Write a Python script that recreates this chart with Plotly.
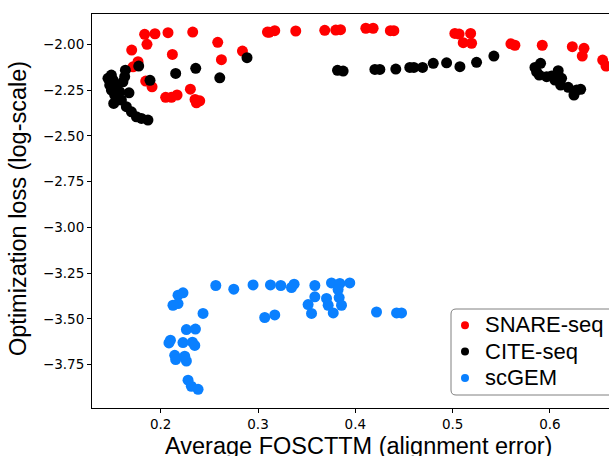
import plotly.graph_objects as go

# SNARE-seq (red)
snare_x = [0.1835, 0.1941, 0.2075, 0.2329, 0.1859, 0.1702, 0.2586, 0.2120, 0.2624, 0.2840,
           0.3097, 0.1767, 0.1715, 0.1846, 0.1911, 0.2305, 0.2051, 0.2168, 0.2110, 0.2353,
           0.2401, 0.2367,
           0.3114, 0.3172, 0.3388, 0.3686, 0.3799, 0.3848, 0.4108, 0.4183, 0.4360, 0.4396,
           0.5023, 0.5067, 0.5185, 0.5109, 0.5195, 0.5599, 0.5640, 0.5921, 0.6230, 0.6350,
           0.6332, 0.6542, 0.6576]
snare_y = [-1.944, -1.941, -1.935, -1.932, -1.999, -2.030, -1.988, -2.054, -2.083, -2.036,
           -1.932, -2.094, -2.122, -2.200, -2.231, -2.244, -2.289, -2.276, -2.289, -2.300,
           -2.308, -2.319,
           -1.933, -1.924, -1.926, -1.922, -1.921, -1.919, -1.911, -1.911, -1.924, -1.924,
           -1.939, -1.943, -1.939, -1.990, -1.993, -1.996, -2.004, -2.004, -2.012, -2.021,
           -2.063, -2.085, -2.118]

# CITE-seq (black)
cite_x = [0.1774, 0.2887, 0.2360, 0.2154, 0.2607, 0.1890,
          0.1493, 0.1458, 0.1510, 0.1476, 0.1493, 0.1544, 0.1612, 0.1637, 0.1630, 0.1578,
          0.1674, 0.1527, 0.1517, 0.1596, 0.1647, 0.1699, 0.1750, 0.1802, 0.1869, 0.1560,
          0.3817, 0.3875, 0.4201, 0.4252, 0.4416, 0.4560, 0.4602, 0.4691, 0.4801,
          0.4938, 0.5075, 0.5246, 0.5424,
          0.5846, 0.5904, 0.5863, 0.5890, 0.5966, 0.6085, 0.6120, 0.6051, 0.6110, 0.6188,
          0.6275, 0.6316, 0.6247, 0.6017]
cite_y = [-2.118, -2.072, -2.130, -2.158, -2.182, -2.196,
          -2.167, -2.185, -2.194, -2.222, -2.249, -2.231, -2.204, -2.140, -2.176, -2.258,
          -2.264, -2.276, -2.322, -2.304, -2.340, -2.368, -2.395, -2.404, -2.413, -2.286,
          -2.141, -2.145, -2.136, -2.136, -2.134, -2.125, -2.125, -2.125, -2.103,
          -2.100, -2.121, -2.097, -2.063,
          -2.125, -2.103, -2.149, -2.167, -2.176, -2.143, -2.185, -2.194, -2.222, -2.234,
          -2.249, -2.245, -2.276, -2.172]

# scGEM (blue)
scgem_x = [0.2229, 0.2178, 0.2178, 0.2126, 0.2566, 0.2751, 0.2949, 0.3128, 0.3234, 0.3344,
           0.3371, 0.2435, 0.3069, 0.3172, 0.2264, 0.2357, 0.2085, 0.2100, 0.2229, 0.2326,
           0.2350, 0.2144, 0.2154, 0.2247, 0.2264, 0.2281, 0.2315, 0.2384,
           0.3584, 0.3755, 0.3841, 0.3943, 0.3584, 0.3515, 0.3550, 0.3704, 0.3721, 0.3773,
           0.3834, 0.3858, 0.4218, 0.4424, 0.3823, 0.4475]
scgem_y = [-3.358, -3.371, -3.417, -3.426, -3.318, -3.338, -3.315, -3.315, -3.318, -3.329,
           -3.311, -3.471, -3.493, -3.479, -3.559, -3.556, -3.632, -3.617, -3.630, -3.628,
           -3.646, -3.700, -3.723, -3.705, -3.731, -3.836, -3.869, -3.886,
           -3.318, -3.304, -3.307, -3.304, -3.380, -3.422, -3.471, -3.389, -3.426, -3.468,
           -3.384, -3.426, -3.463, -3.468, -3.340, -3.468]

series_names = ["SNARE-seq", "CITE-seq", "scGEM"]
series_colors = ["#ff0000", "#000000", "#0a80ff"]

x_ticks = [0.2, 0.3, 0.4, 0.5, 0.6]
y_ticks = [-2.00, -2.25, -2.50, -2.75, -3.00, -3.25, -3.50, -3.75]

W, H = 609, 456
ML, MR, MT, MB = 92, 0, 14, 48
PW, PH = W - ML - MR, H - MT - MB

fig = go.Figure()
for xs, ys, name, col in [(snare_x, snare_y, series_names[0], series_colors[0]),
                          (cite_x, cite_y, series_names[1], series_colors[1]),
                          (scgem_x, scgem_y, series_names[2], series_colors[2])]:
    fig.add_trace(go.Scatter(x=xs, y=ys, mode="markers", name=name, showlegend=False,
                             marker=dict(color=col, size=11, line=dict(width=0))))
# legend-only entries (smaller legend markers, larger text)
for name, col in zip(series_names, series_colors):
    fig.add_trace(go.Scatter(x=[None], y=[None], mode="markers",
                             name=f'<span style="font-size:22px">{name}</span>',
                             marker=dict(color=col, size=8, line=dict(width=0))))

# helpers: page pixel -> paper fraction
def px_x(p):
    return (p - ML) / PW

def px_y(p):
    return (H - MB - p) / PH

# rounded legend frame (cut at the right edge)
x0, x1 = px_x(451), px_x(660)
y0, y1 = px_y(395), px_y(309)
rx, ry = 5 / PW, 5 / PH
path = (f"M {x1},{y0} L {x0+rx},{y0} Q {x0},{y0} {x0},{y0+ry} "
        f"L {x0},{y1-ry} Q {x0},{y1} {x0+rx},{y1} L {x1},{y1} Z")
fig.add_shape(type="path", path=path, xref="paper", yref="paper",
              line=dict(color="#808080", width=1), fillcolor="white", layer="above")

fig.add_annotation(text="Average FOSCTTM (alignment error)", xref="paper", yref="paper",
                   x=px_x(358), y=0, xanchor="center", yanchor="middle", yshift=-38,
                   showarrow=False, font=dict(family="Liberation Sans", size=23.5, color="black"))
fig.add_annotation(text="Optimization loss (log-scale)", xref="paper", yref="paper",
                   x=0, y=px_y(209), xanchor="center", yanchor="middle", xshift=-74,
                   textangle=-90, showarrow=False,
                   font=dict(family="Liberation Sans", size=23.5, color="black"))

fig.update_layout(
    width=W, height=H, autosize=False,
    margin=dict(l=ML, r=MR, t=MT, b=MB, pad=0),
    paper_bgcolor="white", plot_bgcolor="white",
    showlegend=True,
    legend=dict(x=1, y=px_y(307), xanchor="right", yanchor="top",
                bgcolor="rgba(0,0,0,0)", borderwidth=0,
                font=dict(family="Liberation Sans", size=18, color="black"),
                tracegroupgap=0),
    xaxis=dict(range=[0.1294, 0.6607], tickvals=x_ticks, ticktext=[f"{v:.1f}" for v in x_ticks],
               automargin=False,
               showgrid=False, zeroline=False, showline=True, linecolor="black", linewidth=1,
               mirror=True, ticks="outside", ticklen=4, tickcolor="black", tickwidth=1,
               tickfont=dict(family="DejaVu Sans", size=13.5, color="black")),
    yaxis=dict(range=[-3.988, -1.833], tickvals=y_ticks,
               ticktext=[f"\u2212{abs(v):.2f}" for v in y_ticks],
               automargin=False,
               showgrid=False, zeroline=False, showline=True, linecolor="black", linewidth=1,
               ticks="outside", ticklen=4, tickcolor="black", tickwidth=1,
               tickfont=dict(family="DejaVu Sans", size=13.5, color="black")),
)

fig.write_html("out.html", config={"responsive": False, "displayModeBar": False},
               post_script="document.body.style.margin='0';document.body.style.overflow='hidden';")
